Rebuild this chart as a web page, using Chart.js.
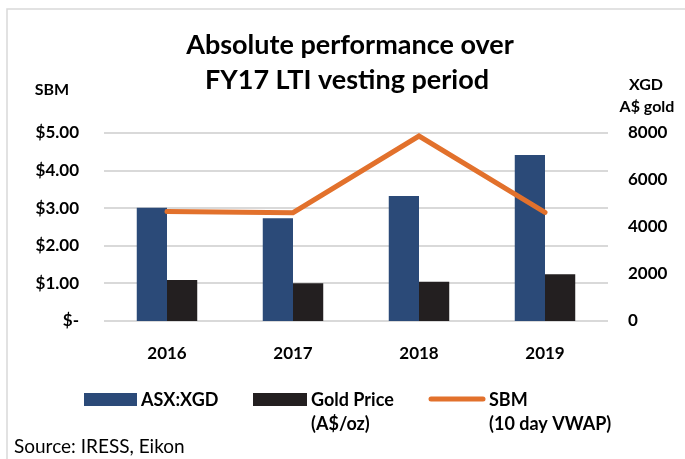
<!DOCTYPE html>
<html>
<head>
<meta charset="utf-8">
<script src="https://cdn.jsdelivr.net/npm/chart.js@4/dist/chart.umd.min.js"></script>
<style>
  html, body { margin: 0; padding: 0; background: #fff; }
  #wrap { width: 685px; height: 459px; position: relative; }
</style>
</head>
<body>
<div id="wrap"><canvas id="myChart" width="685" height="459"></canvas></div>
<script>
const years = ['2016', '2017', '2018', '2019'];
const xgdValues = [4820, 4370, 5320, 7060];
const goldValues = [1745, 1605, 1675, 1985];
const sbmValues = [2.91, 2.88, 4.92, 2.89];
const leftTicks = ['$-', '$1.00', '$2.00', '$3.00', '$4.00', '$5.00'];
const rightTicks = ['0', '2000', '4000', '6000', '8000'];
const titleLines = ['Absolute performance over', 'FY17 LTI vesting period'];
const legendText = [['ASX:XGD'], ['Gold Price', '(A$/oz)'], ['SBM', '(10 day VWAP)']];

const FONT = 'Lato, "Open Sans", sans-serif';
const blue = '#2B4A78';
const black = '#231F20';
const orange = '#E2712C';

// text, frame and legend drawn on top of the chart
const overlay = {
  id: 'overlay',
  beforeDraw(chart) {
    const ctx = chart.ctx;
    ctx.save();
    ctx.strokeStyle = '#d9d9d9';
    ctx.lineWidth = 1.5;
    ctx.beginPath();
    ctx.moveTo(7, 459);
    ctx.lineTo(7, 9);
    ctx.lineTo(685, 9);
    ctx.stroke();
    ctx.restore();
  },
  afterDraw(chart) {
    const ctx = chart.ctx;
    ctx.save();
    ctx.fillStyle = '#000';
    ctx.textAlign = 'center';
    ctx.textBaseline = 'middle';
    ctx.font = 'bold 27px ' + FONT;
    ctx.fillText(titleLines[0], 350, 45);
    ctx.fillText(titleLines[1], 347, 80);

    ctx.font = 'bold 16px ' + FONT;
    ctx.fillText('SBM', 52, 90);
    ctx.fillText('XGD', 646, 85);
    ctx.fillText('A$ gold', 647, 107);

    // legend
    const items = [
      { x: 84, w: 53, color: blue, type: 'box' },
      { x: 253, w: 54, color: black, type: 'box' },
      { x: 429, w: 56, color: orange, type: 'line' }
    ];
    ctx.font = 'bold 18px ' + FONT;
    ctx.textAlign = 'left';
    items.forEach((it, i) => {
      ctx.fillStyle = it.color;
      if (it.type === 'box') {
        ctx.fillRect(it.x, 393, it.w, 13);
      } else {
        ctx.strokeStyle = it.color;
        ctx.lineWidth = 5;
        ctx.lineCap = 'round';
        ctx.beginPath();
        ctx.moveTo(it.x + 2, 399);
        ctx.lineTo(it.x + it.w - 2, 399);
        ctx.stroke();
      }
      ctx.fillStyle = '#000';
      legendText[i].forEach((t, j) => {
        ctx.fillText(t, it.x + it.w + 4, 400 + j * 24);
      });
    });

    ctx.font = '19px ' + FONT;
    ctx.fillText('Source: IRESS, Eikon', 14, 447);
    ctx.restore();
  }
};

new Chart(document.getElementById('myChart'), {
  data: {
    labels: years,
    datasets: [
      {
        type: 'line',
        label: 'SBM (10 day VWAP)',
        data: sbmValues,
        yAxisID: 'y',
        borderColor: orange,
        borderWidth: 5,
        pointRadius: 0,
        borderCapStyle: 'round',
        borderJoinStyle: 'miter',
        tension: 0,
        order: 0
      },
      {
        type: 'bar',
        label: 'ASX:XGD',
        data: xgdValues,
        yAxisID: 'y1',
        backgroundColor: blue,
        barPercentage: 1,
        categoryPercentage: 0.48,
        order: 1
      },
      {
        type: 'bar',
        label: 'Gold Price (A$/oz)',
        data: goldValues,
        yAxisID: 'y1',
        backgroundColor: black,
        barPercentage: 1,
        categoryPercentage: 0.48,
        order: 1
      }
    ]
  },
  options: {
    responsive: false,
    animation: false,
    layout: { padding: { top: 133, left: 0, right: 0, bottom: 0 } },
    plugins: { legend: { display: false }, title: { display: false }, tooltip: { enabled: false } },
    scales: {
      x: {
        grid: { display: false },
        border: { display: false },
        ticks: { color: '#000', font: { family: FONT, size: 17, weight: 'bold' }, padding: 14 },
        afterFit(scale) { scale.height = 138; }
      },
      y: {
        position: 'left',
        min: 0,
        max: 5,
        ticks: {
          stepSize: 1,
          color: '#000',
          padding: 25,
          font: { family: FONT, size: 17, weight: 'bold' },
          callback: (v, i) => leftTicks[i]
        },
        grid: { color: '#d9d9d9', lineWidth: 2, drawTicks: false },
        border: { display: false },
        afterFit(scale) { scale.width = 104; }
      },
      y1: {
        position: 'right',
        min: 0,
        max: 8000,
        ticks: {
          stepSize: 2000,
          color: '#000',
          padding: 20,
          font: { family: FONT, size: 17, weight: 'bold' },
          callback: (v, i) => rightTicks[i]
        },
        grid: { display: false, drawTicks: false },
        border: { display: false },
        afterFit(scale) { scale.width = 77; }
      }
    }
  },
  plugins: [overlay]
});
</script>
</body>
</html>
